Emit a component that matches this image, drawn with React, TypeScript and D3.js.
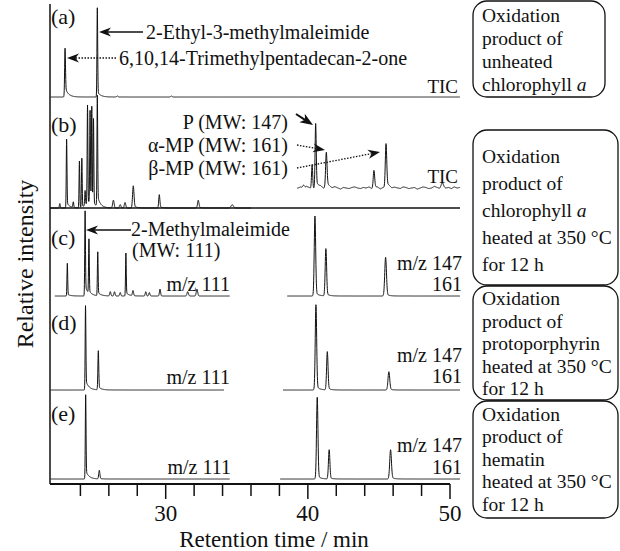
import React from "react";
import * as d3 from "d3";

// ---------- data ----------
// Retention time ticks (min)
const xTicks = [24, 26, 28, 30, 32, 34, 36, 38, 40, 42, 44, 46, 48, 50];
const xMajorTicks = [30, 40, 50];

// peaks: [retention time, relative height (0-100 of panel), width (min), tailing fraction]
const peaksA = [
  [22.92, 53, 0.03, 0.2],
  [25.19, 97, 0.025, 0.06],
  [26.6, 1, 0.05, 0],
  [30.4, 1, 0.05, 0],
];
const peaksBLeft = [
  [22.55, 4, 0.03, 0],
  [23.03, 62, 0.025, 0.08],
  [23.5, 5, 0.03, 0],
  [23.93, 42, 0.025, 0],
  [24.1, 44, 0.025, 0],
  [24.33, 13, 0.025, 0],
  [24.5, 88, 0.025, 0],
  [24.68, 82, 0.025, 0],
  [24.8, 86, 0.025, 0],
  [24.92, 76, 0.025, 0],
  [25.19, 100, 0.025, 0.1],
  [24.7, 6, 0.3, 0],
  [26.32, 7, 0.05, 0],
  [26.8, 3, 0.05, 0],
  [27.14, 5, 0.05, 0],
  [27.72, 20, 0.05, 0.1],
  [29.55, 12, 0.04, 0.1],
  [32.29, 7, 0.05, 0.1],
  [34.68, 3, 0.08, 0],
];
const peaksBRight = [
  [39.7, 3, 0.06, 0],
  [40.3, 22, 0.04, 0],
  [40.55, 58, 0.04, 0.1],
  [41.3, 32, 0.05, 0.15],
  [44.65, 16, 0.05, 0.1],
  [45.5, 40, 0.05, 0.12],
  [49.45, 4, 0.08, 0],
];
// hand-read baseline wiggle of the expanded TIC, every 0.2 min from 39.3 min
const noiseBRight = [
  0, 1, -0.5, 1.5, 0.5, -1, 0, 0.5, 1, -0.5, 0, 0.5, -0.5, 1, 0, -1, 0.5, 0,
  -0.5, 0.5, 1, 0, -0.5, 0.5, 0, 1, -0.5, 0, 0.5, -1, 0.5, 0, 1, -0.5, 0.5, 0,
  -0.5, 1, 0.5, -0.5, 0, 0.5, -1, 0, 1, 0.5, -0.5, 0, 1.5, 0.5, -0.5, 1, 0, 0.5,
  -0.5, 1, 0, 0.5,
];
const peaksC111 = [
  [23.08, 38, 0.025, 0.05],
  [24.33, 99, 0.025, 0.12],
  [24.6, 63, 0.025, 0.05],
  [25.22, 51, 0.025, 0.08],
  [26.1, 5, 0.04, 0],
  [26.4, 5, 0.04, 0],
  [26.8, 4, 0.04, 0],
  [27.2, 50, 0.025, 0.08],
  [27.7, 6, 0.04, 0],
  [28.6, 5, 0.04, 0],
  [28.85, 4, 0.04, 0],
  [29.6, 8, 0.04, 0],
  [31.55, 5, 0.05, 0],
  [32.2, 8, 0.05, 0],
];
const peaksC147 = [
  [40.5, 93, 0.05, 0.05],
  [41.27, 55, 0.05, 0.05],
  [45.47, 45, 0.06, 0.05],
];
const peaksD111 = [
  [24.36, 97, 0.025, 0.12],
  [25.26, 45, 0.03, 0.08],
];
const peaksD147 = [
  [40.57, 98, 0.05, 0.05],
  [41.37, 44, 0.05, 0.05],
  [45.7, 21, 0.06, 0.05],
];
const peaksE111 = [
  [24.37, 98, 0.025, 0.1],
  [25.33, 10, 0.04, 0.05],
];
const peaksE147 = [
  [40.66, 95, 0.05, 0.04],
  [41.5, 34, 0.05, 0.04],
  [45.82, 34, 0.06, 0.06],
];

const panelLabels = ["(a)", "(b)", "(c)", "(d)", "(e)"];
const boxTexts = [
  ["Oxidation", "product of", "unheated", "chlorophyll _a_"],
  ["Oxidation", "product of", "chlorophyll _a_", "heated at 350 °C", "for 12 h"],
  ["Oxidation", "product of", "protoporphyrin", "heated at 350 °C", "for 12 h"],
  ["Oxidation", "product of", "hematin", "heated at 350 °C", "for 12 h"],
];

// ---------- layout ----------
const W = 620;
const H = 551;
const FONT = "'Liberation Serif', 'DejaVu Serif', serif";
const x = d3.scaleLinear().domain([30, 50]).range([165.7, 450]);
const axisLeft = 50;
const axisBottom = 484;
const panelBox = {
  a: [97, 5],
  b: [208, 97],
  c: [296, 210],
  d: [390, 303],
  e: [479, 393],
};

function shape(t: number, p: number[]) {
  const [t0, h, w, tail] = p;
  const d = t - t0;
  const g = Math.exp(-0.5 * (d / w) * (d / w));
  if (d <= 0) return h * g;
  return h * ((1 - tail) * g + tail * Math.exp(-d / 0.22));
}

function tracePath(
  peaks: number[][],
  t0: number,
  t1: number,
  panel: keyof typeof panelBox,
  offset = 0,
  noise: number[] | null = null,
  noiseStart = 0
) {
  const [base, top] = panelBox[panel];
  const y = d3.scaleLinear().domain([0, 100]).range([base, top]);
  const pts: [number, number][] = [];
  for (let t = t0; t <= t1 + 1e-9; t += 0.01) {
    let v = offset;
    for (const p of peaks) v += shape(t, p);
    if (noise) {
      const k = (t - noiseStart) / 0.2;
      const i = Math.max(0, Math.min(noise.length - 2, Math.floor(k)));
      const f = Math.max(0, Math.min(1, k - i));
      v += noise[i] * (1 - f) + noise[i + 1] * f;
    }
    pts.push([x(t), y(v)]);
  }
  return d3.line()(pts) as string;
}

function Arrow({ x1, y1, x2, y2, dotted, bold }: any) {
  const ang = Math.atan2(y2 - y1, x2 - x1);
  const L = bold ? 13 : 12;
  const Wd = bold ? 5 : 4.5;
  const bx = x2 - L * Math.cos(ang);
  const by = y2 - L * Math.sin(ang);
  const nx = x2 - (L - 3.5) * Math.cos(ang);
  const ny = y2 - (L - 3.5) * Math.sin(ang);
  const px = -Math.sin(ang) * Wd;
  const py = Math.cos(ang) * Wd;
  const head = `M${x2},${y2}L${bx + px},${by + py}L${nx},${ny}L${bx - px},${by - py}Z`;
  return (
    <g>
      <line
        x1={x1}
        y1={y1}
        x2={nx}
        y2={ny}
        stroke="#111"
        strokeWidth={bold ? 2 : 1.3}
        strokeDasharray={dotted ? "1.5,1.5" : undefined}
      />
      <path d={head} fill="#111" />
    </g>
  );
}

function BoxText({ lines, bx, by, bw, bh, spacing, cyOff = 0 }: any) {
  const n = lines.length;
  const cy = by + bh / 2 + cyOff;
  return (
    <g>
      <rect x={bx} y={by} width={bw} height={bh} rx={14} ry={14} fill="none" stroke="#111" strokeWidth={1.3} />
      {lines.map((ln: string, i: number) => {
        const yy = cy + (i - (n - 1) / 2) * spacing;
        const parts = ln.split("_");
        return (
          <text key={i} x={bx + 9} y={yy} dominantBaseline="central" fontSize={19.5} fontFamily={FONT} fill="#111">
            {parts.map((s, j) => (
              <tspan key={j} fontStyle={j % 2 === 1 ? "italic" : "normal"}>
                {s}
              </tspan>
            ))}
          </text>
        );
      })}
    </g>
  );
}

export default function App() {
  const traceStyle = { fill: "none", stroke: "#111", strokeWidth: 1 } as const;
  const txt = { fontFamily: FONT, fill: "#111" } as const;
  const labelY = [16, 124, 237, 322, 413];
  return (
    <svg width={W} height={H} style={{ position: "absolute", left: 0, top: 0, background: "#fff" }}>
      <rect x={0} y={0} width={W} height={H} fill="#fff" />
      {/* axes */}
      <line x1={axisLeft} y1={4} x2={axisLeft} y2={axisBottom} stroke="#111" strokeWidth={1.5} />
      <line x1={axisLeft} y1={axisBottom} x2={450} y2={axisBottom} stroke="#111" strokeWidth={1.8} />
      {xTicks.map((t) => (
        <line
          key={t}
          x1={x(t)}
          x2={x(t)}
          y1={axisBottom}
          y2={axisBottom + (xMajorTicks.includes(t) ? 15 : 12)}
          stroke="#111"
          strokeWidth={1.5}
        />
      ))}
      {xMajorTicks.map((t) => (
        <text key={t} x={x(t)} y={513} textAnchor="middle" dominantBaseline="central" fontSize={23} {...txt}>
          {t}
        </text>
      ))}
      <text x={274} y={539} textAnchor="middle" dominantBaseline="central" fontSize={23} {...txt}>
        Retention time / min
      </text>
      <text
        transform="translate(25,264) rotate(-90)"
        textAnchor="middle"
        dominantBaseline="central"
        fontSize={24}
        {...txt}
      >
        Relative intensity
      </text>

      {/* panel labels */}
      {panelLabels.map((l, i) => (
        <text key={l} x={51} y={labelY[i]} dominantBaseline="central" fontSize={22} {...txt}>
          {l}
        </text>
      ))}

      {/* (a) */}
      <path d={tracePath(peaksA, 21.9, 50.7, "a")} {...traceStyle} />
      <text x={146} y={32} dominantBaseline="central" fontSize={20} {...txt}>
        2-Ethyl-3-methylmaleimide
      </text>
      <Arrow x1={143} y1={32} x2={99} y2={32} />
      <text x={119} y={58} dominantBaseline="central" fontSize={20} {...txt}>
        6,10,14-Trimethylpentadecan-2-one
      </text>
      <Arrow x1={116} y1={58} x2={67} y2={58} dotted />
      <text x={458} y={86} textAnchor="end" dominantBaseline="central" fontSize={19} {...txt}>
        TIC
      </text>

      {/* (b) */}
      <line x1={axisLeft} y1={208} x2={460} y2={208} stroke="#111" strokeWidth={1.6} />
      <path d={tracePath(peaksBLeft, 21.9, 36, "b")} {...traceStyle} />
      <path d={tracePath(peaksBRight, 39.25, 50.7, "b", 18, noiseBRight, 39.3)} {...traceStyle} />
      <text x={288} y={122} textAnchor="end" dominantBaseline="central" fontSize={20} {...txt}>
        P (MW: 147)
      </text>
      <text x={288} y={145} textAnchor="end" dominantBaseline="central" fontSize={20} {...txt}>
        α-MP (MW: 161)
      </text>
      <text x={288} y={168} textAnchor="end" dominantBaseline="central" fontSize={20} {...txt}>
        β-MP (MW: 161)
      </text>
      <Arrow x1={296} y1={114} x2={313} y2={125} bold />
      <Arrow x1={297} y1={145} x2={325} y2={150} dotted />
      <Arrow x1={297} y1={168} x2={380} y2={152} dotted />
      <text x={458} y={176} textAnchor="end" dominantBaseline="central" fontSize={19} {...txt}>
        TIC
      </text>

      {/* (c) */}
      <path d={tracePath(peaksC111, 22.2, 34.5, "c")} {...traceStyle} />
      <path d={tracePath(peaksC147, 38.55, 50.7, "c")} {...traceStyle} />
      <text x={131} y={229} dominantBaseline="central" fontSize={20} {...txt}>
        2-Methylmaleimide
      </text>
      <text x={132} y={250} dominantBaseline="central" fontSize={20} {...txt}>
        (MW: 111)
      </text>
      <Arrow x1={131} y1={230} x2={86} y2={230} />
      <text x={230} y={284} textAnchor="end" dominantBaseline="central" fontSize={20} {...txt}>
        m/z 111
      </text>
      <text x={462} y={263} textAnchor="end" dominantBaseline="central" fontSize={20} {...txt}>
        m/z 147
      </text>
      <text x={462} y={284} textAnchor="end" dominantBaseline="central" fontSize={20} {...txt}>
        161
      </text>

      {/* (d) */}
      <path d={tracePath(peaksD111, 21.9, 34.1, "d")} {...traceStyle} />
      <path d={tracePath(peaksD147, 38.25, 50.7, "d")} {...traceStyle} />
      <text x={230} y={377} textAnchor="end" dominantBaseline="central" fontSize={20} {...txt}>
        m/z 111
      </text>
      <text x={462} y={355} textAnchor="end" dominantBaseline="central" fontSize={20} {...txt}>
        m/z 147
      </text>
      <text x={462} y={376} textAnchor="end" dominantBaseline="central" fontSize={20} {...txt}>
        161
      </text>

      {/* (e) */}
      <path d={tracePath(peaksE111, 21.9, 34.5, "e")} {...traceStyle} />
      <path d={tracePath(peaksE147, 38.05, 50.7, "e")} {...traceStyle} />
      <text x={231} y={467} textAnchor="end" dominantBaseline="central" fontSize={20} {...txt}>
        m/z 111
      </text>
      <text x={462} y={445} textAnchor="end" dominantBaseline="central" fontSize={20} {...txt}>
        m/z 147
      </text>
      <text x={462} y={467} textAnchor="end" dominantBaseline="central" fontSize={20} {...txt}>
        161
      </text>

      {/* boxes */}
      <BoxText lines={boxTexts[0]} bx={473} by={1} bw={132} bh={96} spacing={23} />
      <BoxText lines={boxTexts[1]} bx={473} by={130} bw={145} bh={155} spacing={27} cyOff={2} />
      <BoxText lines={boxTexts[2]} bx={473} by={286} bw={145} bh={114} spacing={22.5} />
      <BoxText lines={boxTexts[3]} bx={473} by={401} bw={145} bh={117} spacing={22.5} cyOff={-1} />
    </svg>
  );
}
